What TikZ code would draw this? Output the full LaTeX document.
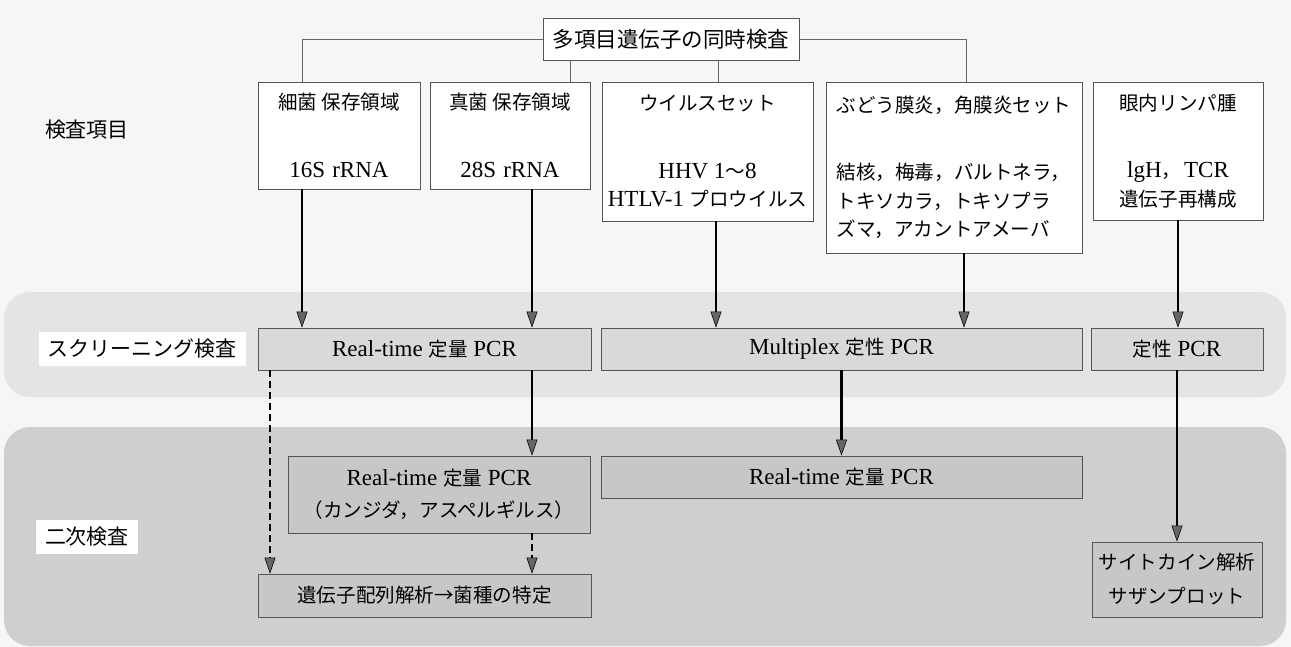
\documentclass[tikz,border=0pt]{standalone}
\usepackage{fontspec}
\setmainfont{Liberation Serif}
\newfontfamily\jp[Scale=0.85]{Noto Sans CJK JP}
\newfontfamily\jpn{Noto Sans CJK JP}
\newcommand{\jtx}[1]{{\jp #1}}
\usetikzlibrary{arrows.meta}
\definecolor{bgc}{HTML}{F6F6F6}
\definecolor{bandA}{HTML}{E4E4E4}
\definecolor{bandB}{HTML}{CFCFCF}
\definecolor{edge}{HTML}{555555}
\begin{document}
\begin{tikzpicture}[x=1pt,y=-1pt,
  every node/.style={font=\fontsize{23}{28.5}\selectfont},
  cat/.style={draw=edge,line width=0.9pt,fill=white,inner sep=0pt,align=center},
  scr/.style={draw=edge,line width=0.9pt,fill=black!15,inner sep=0pt,align=center,minimum height=42pt},
  sec/.style={draw=edge,line width=0.9pt,fill=black!22,inner sep=0pt,align=center},
  conn/.style={draw=black!60,line width=0.9pt},
  flow/.style={line width=2.2pt,-{Triangle[width=11pt,length=16pt,fill=black!60,line width=0.6pt]}},
  flowdash/.style={flow,dash pattern=on 7pt off 4pt},
  lab/.style={font=\jpn\fontsize{21}{28}\selectfont,fill=white,inner xsep=9pt,inner ysep=7pt},
  labplain/.style={font=\jpn\fontsize{21}{28}\selectfont}
]
\useasboundingbox (0,0) rectangle (1291,647);
\fill[bgc] (0,0) rectangle (1291,647);
\fill[bandA, rounded corners=26pt] (4,292) rectangle (1286,397);
\fill[bandB, rounded corners=26pt] (4,427) rectangle (1286,646);

% row labels
\node[labplain] (L1) at (87,130) {検査項目};
\node[lab] (L2) at (142,349) {スクリーニング検査};
\node[lab] (L3) at (87,537) {二次検査};

% top node
\node[cat, minimum width=256pt, minimum height=42pt, font=\jpn\fontsize{21.5}{26}\selectfont] (T) at (671,39) {多項目遺伝子の同時検査};

% categories
\node[cat, minimum width=162pt, minimum height=107pt] (B1) at (339,135.5)
  {\jtx{細菌 保存領域}\\[39pt]16S\hspace{7pt}rRNA};
\node[cat, minimum width=160pt, minimum height=107pt] (B2) at (510,135.5)
  {\jtx{真菌 保存領域}\\[39pt]28S\hspace{7pt}rRNA};
\node[cat, minimum width=211pt, minimum height=139pt] (B3) at (707.5,151.5)
  {\jtx{ウイルスセット}\\[39pt]HHV 1\jtx{〜}8\\HTLV-1 \jtx{プロウイルス}};
\node[cat, align=left, minimum width=256pt, minimum height=171pt] (B4) at (954,167.5)
  {\jtx{ぶどう膜炎，角膜炎セット}\\[38.5pt]\jtx{結核，梅毒，バルトネラ，}\\\jtx{トキソカラ，トキソプラ}\\\jtx{ズマ，アカントアメーバ}};
\node[cat, minimum width=170pt, minimum height=138pt] (B5) at (1178,151)
  {\jtx{眼内リンパ腫}\\[39pt]lgH\jtx{，}\hspace{3pt}TCR\\\jtx{遺伝子再構成}};

% screening
\node[scr, minimum width=333pt] (S1) at (424.5,349) {Real-time \jtx{定量} PCR};
\node[scr, minimum width=481pt] (S2) at (841.5,349) {Multiplex \jtx{定性} PCR};
\node[scr, minimum width=172pt] (S3) at (1177,349) {\jtx{定性} PCR};

% secondary
\node[sec, minimum width=302pt, minimum height=77pt] (K) at (439,494.5)
  {Real-time \jtx{定量} PCR\\[3.5pt]\jtx{（カンジダ，アスペルギルス）}};
\node[sec, minimum width=481pt, minimum height=42pt] (R) at (841.5,477) {Real-time \jtx{定量} PCR};
\node[sec, minimum width=333pt, minimum height=43pt] (G) at (424.5,595.5) {\jtx{遺伝子配列解析→菌種の特定}};
\node[sec, minimum width=170pt, minimum height=75pt] (C) at (1177,579.5)
  {\jtx{サイトカイン解析}\\[5.5pt]\jtx{サザンプロット}};

% thin tree connectors
\draw[conn] (T.west) -| ([xshift=-37pt]B1.north);
\draw[conn] (T.east) -| ([xshift=12pt]B4.north);
\draw[conn] ([xshift=-101pt]T.south) -- ([xshift=-101pt]T.south |- B2.north);
\draw[conn] ([xshift=47pt]T.south) -- ([xshift=47pt]T.south |- B3.north);

% arrows
\draw[flow] ([xshift=-37pt]B1.south) -- ([xshift=-37pt]B1.south |- S1.north);
\draw[flow] ([xshift=22pt]B2.south) -- ([xshift=22pt]B2.south |- S1.north);
\draw[flow] ([xshift=8.5pt]B3.south) -- ([xshift=8.5pt]B3.south |- S2.north);
\draw[flow] ([xshift=10pt]B4.south) -- ([xshift=10pt]B4.south |- S2.north);
\draw[flow] (B5.south) -- (B5.south |- S3.north);
\draw[flow] ([xshift=107.5pt]S1.south) -- ([xshift=107.5pt]S1.south |- K.north);
\draw[flow] (S2.south) -- (S2.south |- R.north);
\draw[flow] (S3.south) -- (S3.south |- C.north);
\draw[flowdash] ([xshift=-154.5pt]S1.south) -- ([xshift=-154.5pt]S1.south |- G.north);
\draw[flowdash] ([xshift=93pt]K.south) -- ([xshift=93pt]K.south |- G.north);
\end{tikzpicture}
\end{document}
